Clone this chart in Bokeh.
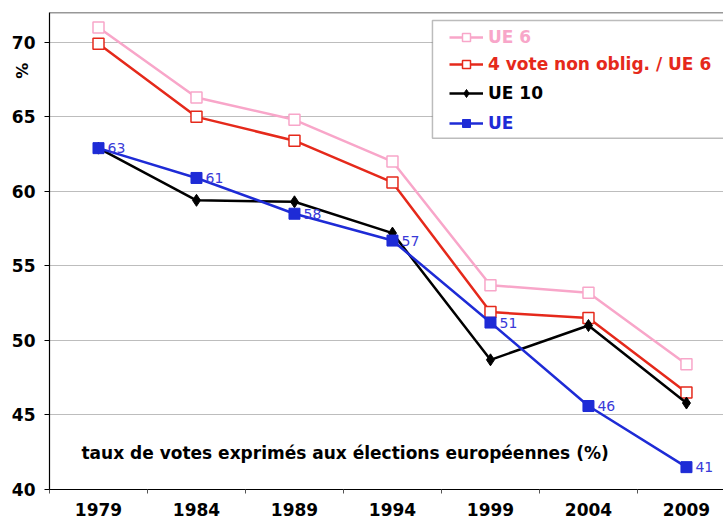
from bokeh.plotting import figure
from bokeh.models import (FixedTicker, Span, Label, Legend, LegendItem, BoxAnnotation,
                          ColumnDataSource, LinearAxis)
from bokeh.embed import file_html
from bokeh.resources import INLINE

years = [1979, 1984, 1989, 1994, 1999, 2004, 2009]
ue6 = [71.0, 66.3, 64.8, 62.0, 53.7, 53.2, 48.4]
ue6_nonoblig = [69.9, 65.0, 63.4, 60.6, 51.9, 51.5, 46.5]
ue10 = [62.9, 59.4, 59.3, 57.2, 48.7, 51.0, 45.8]
ue = [62.9, 60.9, 58.5, 56.7, 51.2, 45.6, 41.5]
ue_labels = ["63", "61", "58", "57", "51", "46", "41"]
y_ticks = [40, 45, 50, 55, 60, 65, 70]
y_unit = "%"
title_text = "taux de votes exprimés aux élections européennes (%)"

PINK = "#F8A6C9"
RED = "#E5291B"
BLACK = "#000000"
BLUE = "#1E2BD6"
FONT = "DejaVu Sans"

p = figure(width=723, height=522, output_backend="svg", toolbar_location=None,
           x_range=(1976.5, 2010.89), y_range=(40, 72),
           min_border_left=49, min_border_right=0, min_border_top=12, min_border_bottom=33)
p.outline_line_color = None
p.background_fill_color = "white"

p.xgrid.grid_line_color = None
p.ygrid.grid_line_color = "#BDBDBD"
p.ygrid.grid_line_width = 1
p.yaxis.ticker = FixedTicker(ticks=y_ticks)
p.xaxis.ticker = FixedTicker(ticks=years, minor_ticks=[y - 2.5 for y in years] + [years[-1] + 2.5])

for ax in (p.xaxis, p.yaxis):
    ax.axis_line_color = "black"
    ax.axis_line_width = 1.2
    ax.major_label_text_font = FONT
    ax.major_label_text_font_style = "bold"
    ax.major_label_text_font_size = "17px"
    ax.major_label_text_color = "black"

p.yaxis.major_tick_out = 5
p.yaxis.major_tick_in = 0
p.yaxis.minor_tick_line_color = None
p.yaxis.major_label_standoff = 9
p.xaxis.major_tick_line_color = None
p.xaxis.major_tick_out = 0
p.xaxis.minor_tick_out = 4
p.xaxis.minor_tick_in = 0
p.xaxis.minor_tick_line_color = "#555555"
p.xaxis.major_label_standoff = 9

# unit label "%" drawn as a lone tick label of an extra left axis
unit_axis = LinearAxis(ticker=FixedTicker(ticks=[68.1]), major_label_overrides={68.1: y_unit},
                       axis_line_color=None, major_tick_line_color=None,
                       minor_tick_line_color=None, major_tick_out=0, major_tick_in=0,
                       major_label_orientation="vertical", major_label_standoff=-24,
                       major_label_text_font=FONT, major_label_text_font_style="bold",
                       major_label_text_font_size="16px", major_label_text_color="black")
p.add_layout(unit_axis, "left")

p.add_layout(Span(location=72, dimension="width", line_color="#333333", line_width=1.5))

src = ColumnDataSource(dict(x=years, ue6=ue6, ue6n=ue6_nonoblig, ue10=ue10, ue=ue, lab=ue_labels))

l1 = p.line("x", "ue6", source=src, line_color=PINK, line_width=2.5)
m1 = p.scatter("x", "ue6", source=src, marker="square", size=11, fill_color="white",
               line_color=PINK, line_width=1.5)
l2 = p.line("x", "ue6n", source=src, line_color=RED, line_width=2.5)
m2 = p.scatter("x", "ue6n", source=src, marker="square", size=11, fill_color="white",
               line_color=RED, line_width=1.5)
l3 = p.line("x", "ue10", source=src, line_color=BLACK, line_width=2.5)
m3 = p.scatter("x", "ue10", source=src, marker="diamond", size=12, fill_color=BLACK,
               line_color=BLACK)
l4 = p.line("x", "ue", source=src, line_color=BLUE, line_width=2.5)
m4 = p.scatter("x", "ue", source=src, marker="square", size=11, fill_color=BLUE,
               line_color=BLUE)

p.text("x", "ue", text="lab", source=src, x_offset=9, text_baseline="middle",
       text_color="#3A3AD8", text_font_size="14px", text_font={"value": FONT})

p.add_layout(Label(x=1978.13, y=42.48, text=title_text, text_font=FONT,
                   text_font_style="bold", text_font_size="17px", text_color="black",
                   text_baseline="middle"))

p.add_layout(BoxAnnotation(left=1996.04, right=2015, top=71.46, bottom=63.56,
                           fill_color="white", fill_alpha=1, line_color="#222222",
                           line_width=1.5, level="annotation"))

entries = [("UE 6", PINK, [l1, m1]), ("4 vote non oblig. / UE 6", RED, [l2, m2]),
           ("UE 10", BLACK, [l3, m3]), ("UE", BLUE, [l4, m4])]
row_centers = [37, 64, 93, 123]
for (lab, col, rends), cy in zip(entries, row_centers):
    leg = Legend(items=[LegendItem(label=lab, renderers=rends)],
                 location=(449 - 49, 489 - cy - 10), padding=0, margin=0,
                 border_line_color=None, background_fill_alpha=0,
                 glyph_width=34, glyph_height=20, label_height=20, label_standoff=5,
                 label_text_color=col, label_text_font=FONT, label_text_font_style="bold",
                 label_text_font_size="17px")
    p.add_layout(leg)

open("out.html", "w").write(file_html(p, INLINE))
